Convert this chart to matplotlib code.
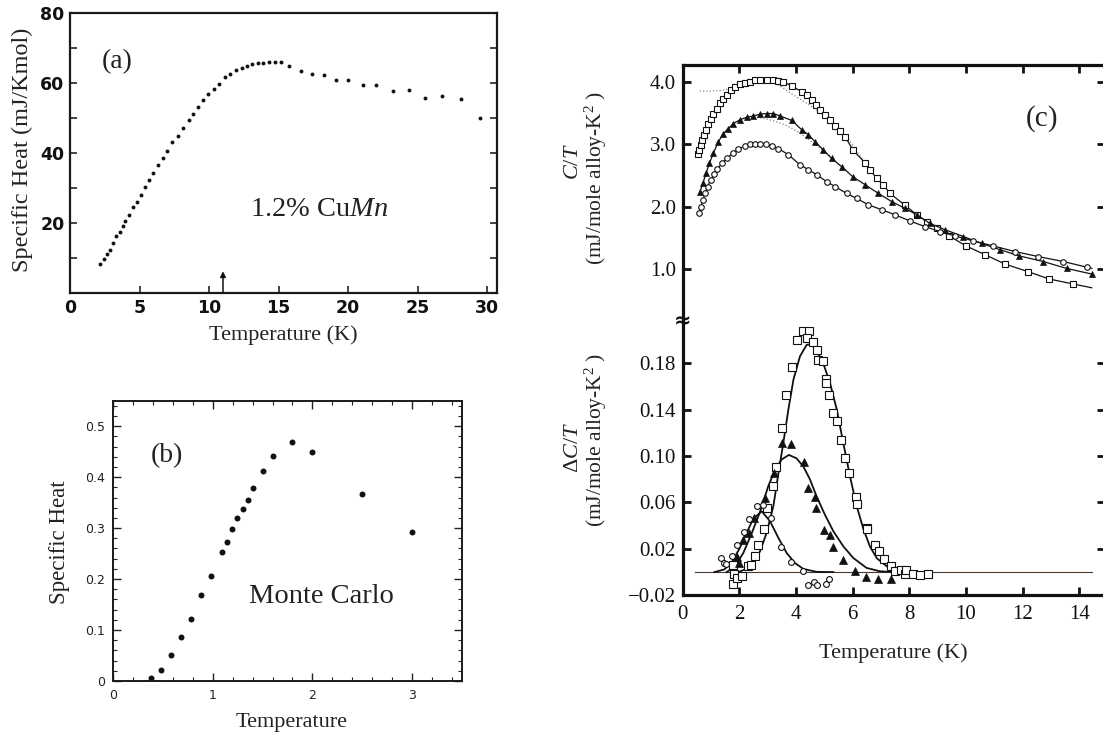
import numpy as np
import matplotlib
matplotlib.use('Agg')
import matplotlib.pyplot as plt
from matplotlib.ticker import MultipleLocator

plt.rcParams['font.family'] = ['Liberation Serif', 'DejaVu Sans']
plt.rcParams['mathtext.fontset'] = 'custom'
plt.rcParams['mathtext.rm'] = 'Liberation Serif'
plt.rcParams['mathtext.it'] = 'Liberation Serif:italic'
plt.rcParams['mathtext.bf'] = 'Liberation Serif:bold'

# ---------------- data: panel (a) ----------------
a_temp = [2.17, 2.46, 2.65, 2.84, 3.06, 3.32, 3.56, 3.78, 3.99, 4.23, 4.52, 4.81, 5.07,
          5.36, 5.65, 5.94, 6.32, 6.66, 6.99, 7.35, 7.73, 8.09, 8.53, 8.84, 9.17, 9.56,
          9.92, 10.32, 10.69, 11.12, 11.50, 11.93, 12.34, 12.72, 13.11, 13.49, 13.90,
          14.31, 14.71, 15.18, 15.78, 16.59, 17.39, 18.23, 19.11, 20.02, 21.05, 22.01,
          23.19, 24.36, 25.54, 26.74, 28.11, 29.45]
a_heat = [8.3, 9.7, 11.0, 12.4, 14.2, 16.3, 17.5, 19.2, 20.7, 22.3, 24.5, 26.1, 28.1,
          30.2, 32.4, 34.2, 36.6, 38.6, 40.5, 43.0, 44.9, 47.1, 49.3, 51.2, 53.2, 55.1,
          56.8, 58.3, 59.6, 61.6, 62.7, 63.6, 64.4, 64.8, 65.4, 65.6, 65.7,
          65.9, 65.9, 65.9, 64.9, 63.5, 62.6, 62.3, 60.9, 60.8, 59.5, 59.4,
          57.7, 58.1, 55.7, 56.4, 55.5, 50.0]
a_xticks = [0, 5, 10, 15, 20, 25, 30]
a_yticks = [10, 20, 30, 40, 50, 60, 70, 80]
a_ylabels = ['', '20', '', '40', '', '60', '', '80']
a_tf = 11.0  # freezing temperature arrow

# ---------------- data: panel (b) ----------------
b_temp = [0.38, 0.48, 0.58, 0.68, 0.78, 0.88, 0.98, 1.09, 1.14, 1.19, 1.24, 1.30, 1.35,
          1.40, 1.50, 1.60, 1.80, 2.00, 2.50, 3.00]
b_heat = [0.005, 0.022, 0.051, 0.087, 0.122, 0.169, 0.207, 0.253, 0.273, 0.298, 0.320,
          0.338, 0.355, 0.378, 0.413, 0.442, 0.469, 0.449, 0.366, 0.292]
b_xticks = [0, 1, 2, 3]
b_yticks = [0, 0.1, 0.2, 0.3, 0.4, 0.5]
b_ylabels = ['0', '0.1', '0.2', '0.3', '0.4', '0.5']

# ---------------- data: panel (c), upper  C/T ----------------
sq_T = [0.55, 0.59, 0.64, 0.69, 0.75, 0.82, 0.91, 0.99, 1.08, 1.20, 1.32, 1.44, 1.55, 1.69,
        1.85, 2.02, 2.20, 2.38, 2.55, 2.73, 2.96, 3.20, 3.38, 3.55, 3.85, 4.20, 4.38, 4.55,
        4.71, 4.85, 5.02, 5.20, 5.38, 5.55, 5.73, 6.02, 6.44, 6.61, 6.85, 7.08, 7.32, 7.85,
        8.26, 8.61, 8.96, 9.41, 10.00, 10.67, 11.38, 12.18, 12.94, 13.79]
sq_CT = [2.84, 2.91, 2.99, 3.07, 3.15, 3.23, 3.32, 3.40, 3.48, 3.56, 3.66, 3.73, 3.79, 3.86,
         3.91, 3.96, 3.98, 4.00, 4.02, 4.02, 4.02, 4.02, 4.01, 4.00, 3.93, 3.84, 3.79, 3.71,
         3.63, 3.55, 3.47, 3.39, 3.29, 3.21, 3.12, 2.90, 2.70, 2.59, 2.45, 2.35, 2.21, 2.02,
         1.87, 1.76, 1.66, 1.53, 1.37, 1.23, 1.08, 0.96, 0.84, 0.76]
sq_line_end = (14.44, 0.70)
tri_T = [0.61, 0.71, 0.82, 0.94, 1.08, 1.26, 1.44, 1.61, 1.79, 2.02, 2.26, 2.49, 2.73, 2.96,
         3.20, 3.44, 3.85, 4.20, 4.44, 4.67, 4.96, 5.26, 5.61, 6.00, 6.44, 6.91, 7.38, 7.85,
         8.26, 8.73, 9.26, 9.91, 10.55, 11.20, 11.88, 12.73, 13.55, 14.44]
tri_CT = [2.24, 2.37, 2.53, 2.69, 2.85, 3.04, 3.17, 3.25, 3.33, 3.39, 3.43, 3.45, 3.48, 3.49,
          3.49, 3.45, 3.38, 3.23, 3.15, 3.04, 2.91, 2.77, 2.64, 2.48, 2.35, 2.21, 2.08, 1.97,
          1.87, 1.73, 1.63, 1.52, 1.41, 1.31, 1.21, 1.12, 1.01, 0.92]
cir_T = [0.58, 0.64, 0.71, 0.79, 0.88, 0.99, 1.11, 1.22, 1.38, 1.55, 1.76, 1.96, 2.20, 2.38,
         2.55, 2.73, 2.94, 3.14, 3.38, 3.73, 4.14, 4.44, 4.73, 5.08, 5.38, 5.79, 6.14, 6.55,
         7.02, 7.49, 8.02, 8.55, 9.08, 9.61, 10.26, 10.96, 11.73, 12.55, 13.44, 14.26]
cir_CT = [1.89, 2.00, 2.11, 2.21, 2.32, 2.43, 2.52, 2.60, 2.69, 2.77, 2.85, 2.92, 2.97, 3.00,
          3.01, 3.01, 3.00, 2.97, 2.93, 2.83, 2.67, 2.59, 2.51, 2.40, 2.32, 2.21, 2.13, 2.03,
          1.95, 1.87, 1.77, 1.68, 1.60, 1.53, 1.45, 1.37, 1.28, 1.20, 1.12, 1.03]
cir_line_end = (14.44, 1.01)
# dotted background curves
dot_sq_T = [0.6, 1.0, 1.4, 1.8, 2.3, 2.8, 3.3, 3.9, 4.5, 5.1, 5.8, 6.4]
dot_sq_CT = [3.85, 3.85, 3.86, 3.90, 3.96, 4.00, 3.97, 3.79, 3.62, 3.42, 3.11, 2.72]
dot_tri_T = [2.5, 2.9, 3.3, 3.7, 4.1, 4.7, 5.3]
dot_tri_CT = [3.43, 3.41, 3.36, 3.29, 3.19, 2.99, 2.77]
c_top_yticks = [1.0, 2.0, 3.0, 4.0]
c_top_ylabels = ['1.0', '2.0', '3.0', '4.0']

# ---------------- data: panel (c), lower  ΔC/T ----------------
dsq_T = [1.76, 1.81, 1.93, 2.08, 1.76, 2.32, 2.40, 2.55, 2.67, 2.87, 2.99, 3.18, 3.29, 3.49,
         3.64, 3.87, 4.02, 4.26, 4.46, 4.38, 4.59, 4.73, 4.79, 4.94, 5.05, 5.05, 5.18, 5.29,
         5.46, 5.59, 5.74, 5.88, 6.12, 6.16, 6.49, 6.52, 6.79, 6.93, 7.11, 7.35, 7.49, 7.69,
         7.85, 7.87, 8.14, 8.38, 8.65]
dsq_dCT = [-0.010, -0.002, -0.005, -0.003, 0.006, 0.0056, 0.006, 0.0136, 0.023, 0.037, 0.055,
           0.074, 0.091, 0.124, 0.153, 0.177, 0.200, 0.208, 0.208, 0.202, 0.198, 0.191, 0.183,
           0.182, 0.1665, 0.163, 0.153, 0.137, 0.130, 0.114, 0.098, 0.085, 0.065, 0.059, 0.038,
           0.037, 0.023, 0.018, 0.011, 0.005, 0.0007, 0.0016, -0.0013, 0.0016, -0.0013,
           -0.0024, -0.002]
dtri_T = [1.91, 1.99, 2.14, 2.34, 2.52, 2.91, 3.24, 3.49, 3.82, 4.28, 4.44, 4.67, 4.71, 5.00,
          5.20, 5.32, 5.65, 6.08, 6.47, 6.91, 7.34]
dtri_dCT = [0.0128, 0.008, 0.028, 0.034, 0.047, 0.064, 0.085, 0.111, 0.110, 0.0945, 0.0724,
            0.0647, 0.055, 0.0366, 0.0317, 0.0214, 0.0107, 0.0007, -0.0044, -0.0059, -0.0056]
dcir_T = [1.35, 1.46, 1.53, 1.75, 1.93, 2.16, 2.35, 2.61, 2.85, 3.12, 3.46, 3.82, 4.24, 4.44,
          4.65, 4.73, 5.05, 5.16]
dcir_dCT = [0.0122, 0.008, 0.0066, 0.0136, 0.0236, 0.0346, 0.046, 0.0566, 0.0575, 0.0466,
            0.022, 0.0085, 0.0007, -0.0113, -0.0088, -0.0113, -0.010, -0.006]
# fitted curves
fit_sq_T = [1.96, 2.26, 2.49, 2.73, 2.96, 3.20, 3.38, 3.55, 3.73, 3.91, 4.14, 4.38, 4.55,
            4.73, 4.96, 5.20, 5.44, 5.67, 5.91, 6.14, 6.38, 6.61, 6.85, 7.20, 7.67, 8.14]
fit_sq_dCT = [0.0, 0.0029, 0.0086, 0.0179, 0.0337, 0.0567, 0.0853, 0.111, 0.140, 0.166,
              0.186, 0.196, 0.196, 0.191, 0.180, 0.163, 0.140, 0.111, 0.082, 0.057, 0.037,
              0.022, 0.012, 0.005, 0.0005, 0.0]
fit_tri_T = [1.55, 1.85, 2.14, 2.44, 2.73, 3.02, 3.26, 3.49, 3.75, 4.02, 4.26, 4.49, 4.73,
             5.02, 5.32, 5.67, 6.02, 6.49, 6.96, 7.44]
fit_tri_dCT = [0.0, 0.0051, 0.0165, 0.0337, 0.052, 0.074, 0.088, 0.097, 0.101, 0.098, 0.091,
               0.080, 0.065, 0.0495, 0.0351, 0.0222, 0.0122, 0.0036, 0.0007, 0.0]
fit_cir_T = [1.12, 1.47, 1.73, 2.02, 2.26, 2.49, 2.79, 3.08, 3.38, 3.67, 3.96, 4.26, 4.73, 5.32]
fit_cir_dCT = [0.0, 0.0023, 0.0082, 0.021, 0.034, 0.046, 0.0524, 0.044, 0.0294, 0.0165,
               0.0079, 0.0027, 0.0002, 0.0]
zero_line_T = [0.43, 14.44]
zero_line_dCT = [0.0, 0.0]
c_bot_yticks = [-0.02, 0.02, 0.06, 0.10, 0.14, 0.18]
c_bot_ylabels = ['\u22120.02', '0.02', '0.06', '0.10', '0.14', '0.18']
c_xticks = [0, 2, 4, 6, 8, 10, 12, 14]

# ---------------- figure ----------------
W, H = 1103, 739
fig = plt.figure(figsize=(W / 100, H / 100), dpi=100)


def px_axes(l, t, r, b):
    return fig.add_axes([l / W, 1 - b / H, (r - l) / W, (b - t) / H])


def fx(x):
    return x / W


def fy(y):
    return 1 - y / H


txt = '#222222'

# ---- panel (a) ----
axa = px_axes(70, 13, 497, 293)
axa.plot(a_temp, a_heat, 'o', ms=2.8, color='#111111', mec='none')
axa.set_xlim(0, 30.7)
axa.set_ylim(0, 80)
axa.set_xticks(a_xticks)
axa.set_xticklabels([str(v) for v in a_xticks])
axa.set_yticks(a_yticks)
axa.set_yticklabels(a_ylabels)
axa.tick_params(direction='in', length=5, width=1.1, top=False, right=True,
                labelsize=12.5, pad=4, colors='#111111')
for lab in axa.get_xticklabels() + axa.get_yticklabels():
    lab.set_fontfamily('DejaVu Sans')
    lab.set_fontweight('bold')
for s in axa.spines.values():
    s.set_linewidth(1.6)
    s.set_color('#1a1a1a')
axa.annotate('', xy=(a_tf, 6.2), xytext=(a_tf, 0.3),
             arrowprops=dict(arrowstyle='-|>', color='#111111', lw=1.1,
                             mutation_scale=8, shrinkA=0, shrinkB=0))
axa.text(3.37, 66.2, '(a)', fontsize=20, ha='center', va='center', color=txt)
axa.text(17.9, 23.8, '1.2% Cu$\\mathit{Mn}$', fontsize=20.5, ha='center', va='center',
         color=txt)
axa.set_xlabel('Temperature (K)', fontsize=16, color=txt, labelpad=6)
fig.text(fx(22), fy(150), 'Specific Heat (mJ/Kmol)', rotation=90, fontsize=17.5,
         ha='center', va='center', color=txt)

# ---- panel (b) ----
axb = px_axes(113.3, 400.7, 461.6, 681)
axb.plot(b_temp, b_heat, 'o', ms=4.3, color='#111111', mec='none')
axb.set_xlim(0, 3.5)
axb.set_ylim(0, 0.55)
axb.set_xticks(b_xticks)
axb.set_xticklabels([str(v) for v in b_xticks])
axb.set_yticks(b_yticks)
axb.set_yticklabels(b_ylabels)
axb.xaxis.set_minor_locator(MultipleLocator(0.2))
axb.yaxis.set_minor_locator(MultipleLocator(0.02))
axb.tick_params(which='both', direction='in', top=True, right=True, colors='#222222')
axb.tick_params(which='major', length=6, width=1.0, labelsize=9, pad=6)
axb.tick_params(which='minor', length=3, width=0.8)
for lab in axb.get_xticklabels() + axb.get_yticklabels():
    lab.set_fontfamily('DejaVu Sans')
for s in axb.spines.values():
    s.set_linewidth(1.4)
    s.set_color('#1a1a1a')
axb.text(0.537, 0.443, '(b)', fontsize=20, ha='center', va='center', color=txt)
axb.text(2.094, 0.165, 'Monte Carlo', fontsize=20.5, ha='center', va='center', color=txt)
fig.text(fx(292), fy(722), 'Temperature', fontsize=16, ha='center', va='center', color=txt)
fig.text(fx(60), fy(542), 'Specific Heat', rotation=90, fontsize=16.5,
         ha='center', va='center', color=txt)

# ---- panel (c) ----
cl, cr = 682.7, 1104.8
axc1 = px_axes(cl, 65, cr, 321)
axc2 = px_axes(cl, 321, cr, 595.3)

# upper
axc1.plot(dot_sq_T, dot_sq_CT, ':', color='#808080', lw=0.9)
axc1.plot(dot_tri_T, dot_tri_CT, ':', color='#808080', lw=0.9)
axc1.plot([sq_T[-1], sq_line_end[0]], [sq_CT[-1], sq_line_end[1]], '-', color='#111111', lw=0.9)
axc1.plot([cir_T[-1], cir_line_end[0]], [cir_CT[-1], cir_line_end[1]], '-', color='#111111', lw=0.9)
axc1.plot(sq_T, sq_CT, '-', color='#111111', lw=0.9, marker='s', ms=4.6, mfc='white',
          mec='#111111', mew=0.8)
axc1.plot(tri_T, tri_CT, '-', color='#111111', lw=0.9, marker='^', ms=5.0, mfc='#111111',
          mec='#111111', mew=0.5)
axc1.plot(cir_T, cir_CT, '-', color='#111111', lw=0.9, marker='o', ms=4.0, mfc='white',
          mec='#111111', mew=0.8)
axc1.set_xlim(0, 14.9)
axc1.set_ylim(0.168, 4.267)
axc1.set_xticks(c_xticks[1:])
axc1.set_yticks(c_top_yticks)
axc1.set_yticklabels(c_top_ylabels)
axc1.tick_params(direction='in', length=6, width=2.0, top=True, bottom=False,
                 right=True, labelbottom=False, labelsize=15, pad=5, colors='#111111')
axc1.spines['bottom'].set_visible(False)
for k in ('top', 'left', 'right'):
    axc1.spines[k].set_linewidth(2.3)
    axc1.spines[k].set_color('#111111')
axc1.text(12.67, 3.41, '(c)', fontsize=21, ha='center', va='center', color=txt)

# lower
axc2.plot(zero_line_T, zero_line_dCT, '-', color='#4a3a30', lw=0.8)
axc2.plot(fit_sq_T, fit_sq_dCT, '-', color='#111111', lw=1.3)
axc2.plot(fit_tri_T, fit_tri_dCT, '-', color='#111111', lw=1.3)
axc2.plot(fit_cir_T, fit_cir_dCT, '-', color='#111111', lw=1.3)
axc2.plot(dsq_T, dsq_dCT, 's', ms=5.2, mfc='white', mec='#111111', mew=0.8)
axc2.plot(dtri_T, dtri_dCT, '^', ms=5.6, mfc='#111111', mec='#111111', mew=0.5)
axc2.plot(dcir_T, dcir_dCT, 'o', ms=4.2, mfc='white', mec='#111111', mew=0.8)
axc2.set_xlim(0, 14.9)
axc2.set_ylim(-0.02, 0.2164)
axc2.set_xticks(c_xticks)
axc2.set_xticklabels([str(v) for v in c_xticks])
axc2.set_yticks(c_bot_yticks)
axc2.set_yticklabels(c_bot_ylabels)
axc2.tick_params(direction='in', length=6, width=2.0, top=False, right=True,
                 labelsize=15, colors='#111111')
axc2.tick_params(axis='x', pad=7)
axc2.tick_params(axis='y', pad=5)
axc2.spines['top'].set_visible(False)
for k in ('bottom', 'left', 'right'):
    axc2.spines[k].set_linewidth(2.3)
    axc2.spines[k].set_color('#111111')
axc2.set_xlabel('Temperature (K)', fontsize=16, color=txt, labelpad=14)

# axis break symbol
fig.text(fx(cl), fy(321), '\u2248', fontsize=15, fontweight='bold', family='DejaVu Sans',
         ha='center', va='center', color='#111111')

# y labels for (c)
fig.text(fx(573), fy(162), '$\\mathit{C/T}$', rotation=90, fontsize=16,
         ha='center', va='center', color=txt)
fig.text(fx(596), fy(178), '(mJ/mole alloy-K$^2$ )', rotation=90, fontsize=15.5,
         ha='center', va='center', color=txt)
fig.text(fx(573), fy(447), '$\\Delta\\mathit{C/T}$', rotation=90, fontsize=16,
         ha='center', va='center', color=txt)
fig.text(fx(596), fy(440), '(mJ/mole alloy-K$^2$ )', rotation=90, fontsize=15.5,
         ha='center', va='center', color=txt)

fig.savefig('out.png', dpi=100)
